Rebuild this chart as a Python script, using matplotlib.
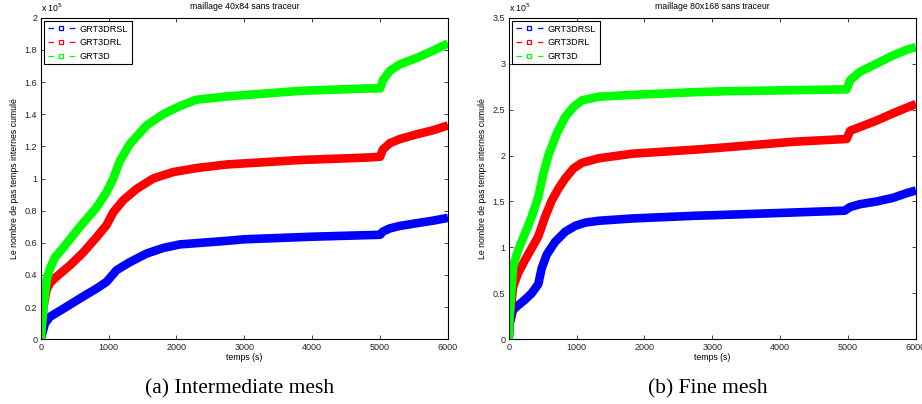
import matplotlib.pyplot as plt
from matplotlib.lines import Line2D

plt.rcParams['font.family'] = ['Liberation Sans', 'DejaVu Sans']
plt.rcParams['lines.scale_dashes'] = False

# cumulative internal time steps (x 1e5) vs time, mesh 40x84
t_a_d = [0, 40, 88, 137, 210, 333, 578, 823, 970, 1069, 1167, 1314, 1559, 1804, 2049, 2294, 2735,
         3820, 4800, 5000, 5040, 5145, 5290, 5540, 5780, 6000]
v_a_d = [0, 0.20, 0.37, 0.44, 0.51, 0.57, 0.70, 0.82, 0.915, 1.0, 1.11, 1.215, 1.33, 1.40, 1.45, 1.49, 1.51,
         1.545, 1.56, 1.56, 1.61, 1.67, 1.71, 1.75, 1.795, 1.84]
t_a_drl = [0, 40, 88, 137, 235, 431, 627, 823, 970, 1069, 1216, 1412, 1657, 1951, 2294, 2735,
           3820, 4800, 5000, 5040, 5145, 5290, 5540, 5780, 6000]
v_a_drl = [0, 0.20, 0.31, 0.35, 0.39, 0.46, 0.54, 0.635, 0.71, 0.79, 0.865, 0.935, 1.0, 1.04, 1.065, 1.087,
           1.115, 1.13, 1.135, 1.18, 1.22, 1.245, 1.275, 1.30, 1.33]
t_a_drsl = [0, 64, 137, 333, 578, 823, 970, 1118, 1314, 1559, 1804, 2049, 2735, 3000, 4000, 5000,
            5040, 5145, 5290, 5540, 5780, 6000]
v_a_drsl = [0, 0.10, 0.14, 0.19, 0.254, 0.316, 0.357, 0.43, 0.48, 0.533, 0.568, 0.59, 0.612, 0.622, 0.638, 0.65,
            0.67, 0.69, 0.705, 0.722, 0.738, 0.755]

# same for mesh 80x168
t_b_d = [0, 15, 64, 139, 238, 337, 436, 510, 584, 708, 832, 955, 1079, 1327, 1822, 2762, 3210, 4978,
         5030, 5173, 5419, 5663, 5860, 6000]
v_b_d = [0, 0.28, 0.79, 0.97, 1.15, 1.33, 1.55, 1.80, 2.0, 2.24, 2.42, 2.53, 2.60, 2.64, 2.66, 2.69, 2.70, 2.72,
         2.82, 2.91, 3.0, 3.09, 3.15, 3.18]
t_b_drl = [0, 15, 64, 139, 238, 337, 436, 535, 634, 733, 832, 955, 1079, 1327, 1822, 2762, 3210, 4190, 4978,
           5030, 5173, 5419, 5663, 5860, 6000]
v_b_drl = [0, 0.21, 0.57, 0.72, 0.86, 0.99, 1.12, 1.33, 1.51, 1.64, 1.75, 1.86, 1.92, 1.97, 2.02, 2.065, 2.09,
           2.15, 2.18, 2.27, 2.31, 2.38, 2.46, 2.52, 2.56]
t_b_drsl = [0, 15, 64, 139, 238, 337, 436, 485, 559, 683, 832, 980, 1129, 1327, 1822, 2762, 3000, 4000, 4950,
            5030, 5173, 5419, 5663, 5860, 6000]
v_b_drsl = [0, 0.17, 0.32, 0.37, 0.43, 0.50, 0.60, 0.77, 0.92, 1.06, 1.17, 1.235, 1.27, 1.29, 1.315, 1.345, 1.35,
            1.375, 1.40, 1.44, 1.47, 1.50, 1.54, 1.59, 1.62]

names = ['GRT3DRSL', 'GRT3DRL', 'GRT3D']
colors = ['#0000ff', '#ff0000', '#00ff00']

panels = [
    dict(title='maillage 40x84 sans traceur', ymax=2.0, yticks=[0, 0.2, 0.4, 0.6, 0.8, 1, 1.2, 1.4, 1.6, 1.8, 2],
         ylabs=['0', '0.2', '0.4', '0.6', '0.8', '1', '1.2', '1.4', '1.6', '1.8', '2'],
         series=[(t_a_drsl, v_a_drsl), (t_a_drl, v_a_drl), (t_a_d, v_a_d)],
         caption='(a) Intermediate mesh', pos=[40.7, 448.0]),
    dict(title='maillage 80x168 sans traceur', ymax=3.5, yticks=[0, 0.5, 1, 1.5, 2, 2.5, 3, 3.5],
         ylabs=['0', '0.5', '1', '1.5', '2', '2.5', '3', '3.5'],
         series=[(t_b_drsl, v_b_drsl), (t_b_drl, v_b_drl), (t_b_d, v_b_d)],
         caption='(b) Fine mesh', pos=[508.7, 916.0]),
]

W, H = 922, 404
fig = plt.figure(figsize=(W / 100, H / 100), dpi=100)
y0, y1 = 339.3, 17.7

for p in panels:
    x0, x1 = p['pos']
    ax = fig.add_axes([x0 / W, (H - y0) / H, (x1 - x0) / W, (y0 - y1) / H])
    for (t, v), c in zip(p['series'], colors):
        ax.plot(t, v, color=c, lw=6.2, solid_capstyle='butt', solid_joinstyle='round')
    ax.set_xlim(0, 6000)
    ax.set_ylim(0, p['ymax'])
    ax.set_xticks([0, 1000, 2000, 3000, 4000, 5000, 6000])
    ax.set_yticks(p['yticks'])
    ax.set_yticklabels(p['ylabs'])
    ax.tick_params(direction='in', length=3, width=0.6, labelsize=6.5, pad=2.5,
                   top=True, right=True, colors='#222222')
    for s in ax.spines.values():
        s.set_linewidth(0.8)
    ax.set_title(p['title'], fontsize=6.3, pad=6)
    ax.set_xlabel('temps (s)', fontsize=6.3, labelpad=1)
    ax.set_ylabel('Le nombre de pas temps internes cumulé', fontsize=6.3, labelpad=4)
    ax.text(0.0, 1.012, r'x 10$^5$', transform=ax.transAxes, fontsize=6.3, ha='left', va='bottom')

    handles = [Line2D([], [], color=c, lw=0.9, dashes=[4, 11.4], marker='s', markersize=3,
                      markerfacecolor='none', markeredgewidth=0.9) for c in colors]
    leg = ax.legend(handles, names, loc='upper left', fontsize=6.6, numpoints=1, handlelength=3.0,
                    handletextpad=0.5, borderpad=0.4, labelspacing=0.5, borderaxespad=0.35,
                    fancybox=False, framealpha=1, edgecolor='black')
    leg.get_frame().set_linewidth(0.8)

    fig.text((x0 + x1) / 2 / W - 0.005, (H - 389.3) / H, p['caption'], fontsize=15.5,
             family='Liberation Serif', ha='center', va='center')

fig.savefig('out.png', dpi=100)
